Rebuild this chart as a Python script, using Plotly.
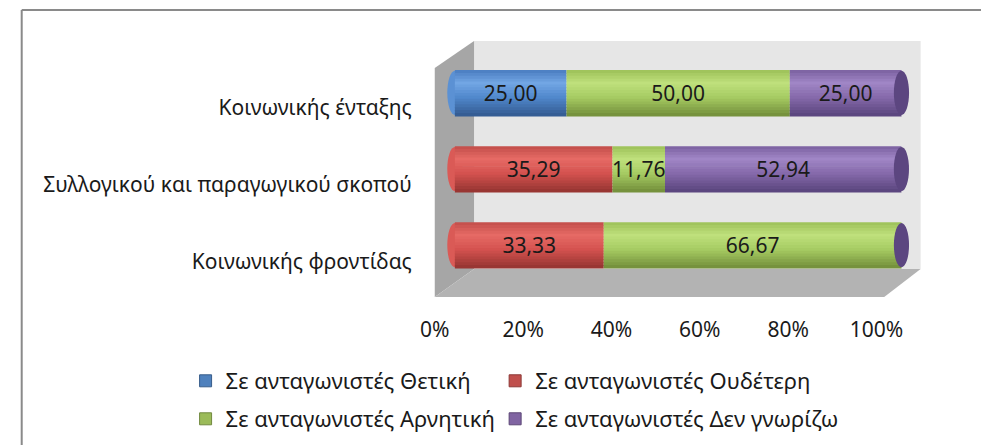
import plotly.graph_objects as go

# ---- data -------------------------------------------------------------
categories = ["Κοινωνικής ένταξης", "Συλλογικού και παραγωγικού σκοπού", "Κοινωνικής φροντίδας"]
series_names = [
    "Σε ανταγωνιστές Θετική",
    "Σε ανταγωνιστές Ουδέτερη",
    "Σε ανταγωνιστές Αρνητική",
    "Σε ανταγωνιστές Δεν γνωρίζω",
]
positive = [25.00, 0.00, 0.00]
neutral = [0.00, 35.29, 33.33]
negative = [50.00, 11.76, 66.67]
dont_know = [25.00, 52.94, 0.00]
x_ticks = [0, 20, 40, 60, 80, 100]
x_tick_labels = ["0%", "20%", "40%", "60%", "80%", "100%"]

series_values = [positive, neutral, negative, dont_know]

# ---- style ------------------------------------------------------------
W, H = 1008, 445
FONT = "Noto Sans"
TEXT_COLOR = "#1a1a1a"

# shade stops per series: top edge, highlight, middle, bottom
SHADES = [
    ["#4a7cc0", "#72a6e4", "#5088cc", "#33598f"],
    ["#c24e4a", "#e66a65", "#d4524f", "#943431"],
    ["#9cc158", "#bfe07c", "#a6cb62", "#728d3a"],
    ["#7b61a0", "#a086c6", "#8569aa", "#59447c"],
]
LEGEND_FILL = ["#4f81bd", "#c0504d", "#9bbb59", "#8064a2"]
LEGEND_LINE = ["#385d8a", "#8c3836", "#71893f", "#5c4776"]
CAP_COLOR = "#5c4680"


def px(x):
    return x / W


def py(y):
    return 1 - y / H


def hex_to_rgb(h):
    h = h.lstrip("#")
    return [int(h[i:i + 2], 16) for i in (0, 2, 4)]


def shade(stops, t):
    # piecewise blend across the cylinder profile (0 = top, 1 = bottom)
    pos = [0.0, 0.28, 0.6, 1.0]
    for i in range(len(pos) - 1):
        if pos[i] <= t <= pos[i + 1]:
            f = (t - pos[i]) / (pos[i + 1] - pos[i])
            a, b = hex_to_rgb(stops[i]), hex_to_rgb(stops[i + 1])
            c = [round(a[j] + (b[j] - a[j]) * f) for j in range(3)]
            return "rgb(%d,%d,%d)" % tuple(c)
    return stops[-1]


fig = go.Figure()

# invisible trace so the label axes (x / y) get their categories
fig.add_trace(go.Scatter(
    x=[0] * len(categories), y=categories, xaxis="x", yaxis="y",
    mode="markers", marker=dict(opacity=0), hoverinfo="skip", showlegend=False,
))

# flatten the stacked segments
seg_y, seg_x, seg_base, seg_series = [], [], [], []
for ci, cat in enumerate(categories):
    acc = 0.0
    for si, vals in enumerate(series_values):
        seg_y.append(cat)
        seg_x.append(vals[ci])
        seg_base.append(acc)
        seg_series.append(si)
        acc += vals[ci]

# cylinder look: thin horizontal bands, each a bar trace
BAR_W = 0.6
N_BANDS = 16
band_w = BAR_W / N_BANDS
for k in range(N_BANDS):
    t = (k + 0.5) / N_BANDS
    colors = [shade(SHADES[s], t) for s in seg_series]
    fig.add_trace(go.Bar(
        y=seg_y, x=seg_x, base=seg_base, orientation="h",
        xaxis="x2", yaxis="y2",
        width=band_w * 1.25, offset=-BAR_W / 2 + k * band_w,
        marker=dict(color=colors, line=dict(width=0)),
        hoverinfo="skip", showlegend=False,
    ))

# data labels
labels = [("%.2f" % v).replace(".", ",") if v > 0 else "" for v in seg_x]
fig.add_trace(go.Bar(
    y=seg_y, x=seg_x, base=seg_base, orientation="h",
    xaxis="x2", yaxis="y2", width=BAR_W,
    marker=dict(color="rgba(0,0,0,0)", line=dict(width=0)),
    text=labels, textposition="inside", insidetextanchor="middle", textangle=0,
    textfont=dict(family=FONT, size=21, color=TEXT_COLOR),
    hoverinfo="skip", showlegend=False,
))

# legend entries: one small legend per entry, laid out as a 2x2 grid
legend_ids = ["legend", "legend2", "legend3", "legend4"]
for si, name in enumerate(series_names):
    fig.add_trace(go.Bar(
        x=[None], y=[None], name=name, xaxis="x2", yaxis="y2",
        marker=dict(color=LEGEND_FILL[si], line=dict(color=LEGEND_LINE[si], width=1)),
        legend=legend_ids[si],
    ))

# ---- 3d walls & frame -------------------------------------------------
def poly(points, color):
    d = "M " + " L ".join("%f,%f" % (px(x), py(y)) for x, y in points) + " Z"
    return dict(type="path", xref="paper", yref="paper", path=d,
                fillcolor=color, line=dict(width=0), layer="below")


shapes = [
    poly([(479, 41), (945, 41), (945, 269), (479, 269)], "#e6e6e6"),
    poly([(438, 68), (479, 41), (479, 269), (438, 297)], "#a6a6a6"),
    poly([(438, 297), (479, 269), (945, 269), (907, 297)], "#b3b3b3"),
    dict(type="line", xref="paper", yref="paper", x0=px(7), x1=1, y0=py(10), y1=py(10),
         line=dict(color="#8a8a8a", width=2)),
    dict(type="line", xref="paper", yref="paper", x0=px(7), x1=px(7), y0=py(10), y1=0,
         line=dict(color="#8a8a8a", width=2)),
]

# rounded ends of the cylinders
CAP = 1.7
for ci in range(len(categories)):
    total = sum(vals[ci] for vals in series_values)
    first = next(si for si, vals in enumerate(series_values) if vals[ci] > 0)
    shapes.append(dict(type="circle", xref="x2", yref="y2",
                       x0=-CAP, x1=CAP, y0=ci - BAR_W / 2 + 0.01, y1=ci + BAR_W / 2 - 0.01,
                       fillcolor=shade(SHADES[first], 0.5), line=dict(width=0), layer="below"))
    shapes.append(dict(type="circle", xref="x2", yref="y2",
                       x0=total - CAP, x1=total + CAP, y0=ci - BAR_W / 2 + 0.01, y1=ci + BAR_W / 2 - 0.01,
                       fillcolor=CAP_COLOR, line=dict(width=0), layer="above"))

legend_common = dict(
    orientation="h", xanchor="left", yanchor="middle",
    font=dict(family=FONT, size=22, color=TEXT_COLOR),
    bgcolor="rgba(0,0,0,0)", itemclick=False, itemdoubleclick=False,
)
legend_pos = {
    "legend": (178, 381), "legend2": (501, 381),
    "legend3": (178, 419), "legend4": (501, 419),
}
legends = {lid: dict(x=px(lx), y=py(ly), **legend_common) for lid, (lx, ly) in legend_pos.items()}

# bar axis: 0..100 spans 459..925 px, padded so the end caps are not clipped
BAR_PX0, BAR_PX1, PAD = 459, 925, 4
unit = (BAR_PX1 - BAR_PX0) / 100

fig.update_layout(
    width=W, height=H,
    margin=dict(l=0, r=0, t=0, b=0),
    paper_bgcolor="white", plot_bgcolor="rgba(0,0,0,0)",
    barmode="overlay",
    font=dict(family=FONT, size=21, color=TEXT_COLOR),
    uniformtext=dict(minsize=21, mode="show"),
    shapes=shapes,
    showlegend=True,
    **legends,
    xaxis=dict(domain=[px(438), px(899)], range=[0, 100], tickvals=x_ticks, ticktext=x_tick_labels,
               showgrid=False, zeroline=False, showline=False, ticks="",
               ticklabelstandoff=14, anchor="y", fixedrange=True),
    yaxis=dict(domain=[py(300.5), py(69.5)], type="category", categoryarray=categories,
               range=[2.5, -0.5], showgrid=False, zeroline=False, showline=False, ticks="",
               ticklabelstandoff=22, anchor="x", fixedrange=True),
    xaxis2=dict(domain=[px(BAR_PX0 - PAD * unit), px(BAR_PX1 + PAD * unit)], range=[-PAD, 100 + PAD],
                visible=False, anchor="y2", fixedrange=True),
    yaxis2=dict(domain=[py(283.1), py(54.9)], type="category", categoryarray=categories,
                range=[2.5, -0.5], visible=False, anchor="x2", fixedrange=True),
)

fig.write_html(
    "out.html", config={"displayModeBar": False},
    post_script="document.body.style.margin='0';"
                "document.body.style.overflow='hidden';"
                "document.documentElement.style.overflow='hidden';",
)
